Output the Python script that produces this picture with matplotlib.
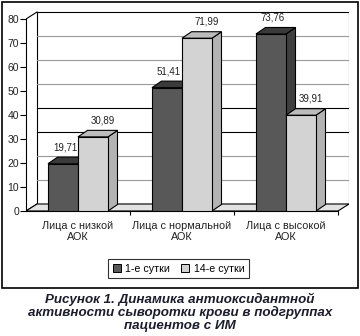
import matplotlib
matplotlib.use("Agg")
import matplotlib.pyplot as plt
from matplotlib.patches import Polygon, Rectangle, Patch

plt.rcParams['font.family'] = ['Liberation Sans', 'DejaVu Sans']

categories = ["Лица с низкой\nАОК", "Лица с нормальной\nАОК", "Лица с высокой\nАОК"]
series_names = ["1-е сутки", "14-е сутки"]
day1 = [19.71, 51.41, 73.76]
day14 = [30.89, 71.99, 39.91]
y_ticks = [0, 10, 20, 30, 40, 50, 60, 70, 80]
caption = ["Рисунок 1. Динамика антиоксидантной",
           "активности сыворотки крови в подгруппах",
           "пациентов с ИМ"]

W, H = 360, 336
fig = plt.figure(figsize=(W / 100, H / 100), dpi=100)

# plot area in pixels (front-left corner at zero, back wall top)
px_left, px_right, px_bottom, px_top = 26, 349, 211, 11
ax = fig.add_axes([px_left / W, 1 - px_bottom / H,
                   (px_right - px_left) / W, (px_bottom - px_top) / H])
cat_px = 104.0      # pixels per category
val_px = 2.4        # pixels per value unit
ax.set_xlim(-0.5, -0.5 + (px_right - px_left) / cat_px)
ax.set_ylim(0, (px_bottom - px_top) / val_px)

# depth offsets of walls and bars, expressed in data units
wdx, wdy = 11 / cat_px, 7 / val_px
bdx, bdy = 9.5 / cat_px, 6.5 / val_px
x_end = 2.5
lw = 0.8

# back wall and its gridlines
ax.add_patch(Rectangle((-0.5 + wdx, wdy), x_end - (-0.5), 80, facecolor='white',
                       edgecolor='black', lw=lw, zorder=1))
grid_dark = {30, 40}
for v in y_ticks[1:-1]:
    ax.plot([-0.5 + wdx, x_end + wdx], [v + wdy, v + wdy],
            color='black' if v in grid_dark else '#9a9a9a', lw=lw, zorder=1.5)

# left wall edges
ax.plot([-0.5, -0.5 + wdx], [80, 80 + wdy], color='black', lw=lw, zorder=2)
ax.plot([-0.5, -0.5 + wdx], [0, wdy], color='black', lw=lw, zorder=2)

# floor
ax.add_patch(Polygon([(-0.5, 0), (x_end, 0), (x_end + wdx, wdy), (-0.5 + wdx, wdy)],
                     closed=True, facecolor='#e2e2e2', edgecolor='black', lw=lw, zorder=2))

bar_w = 30 / cat_px
styles = [
    dict(front='#585858', top='#3a3a3a', side='#3e3e3e', label_dx=2 / cat_px),
    dict(front='#d3d3d3', top='#bcbcbc', side='#b3b3b3', label_dx=9.5 / cat_px),
]


def draw_bar(x0, h, st, z):
    x1 = x0 + bar_w
    ax.add_patch(Polygon([(x1, 0), (x1 + bdx, bdy), (x1 + bdx, h + bdy), (x1, h)],
                         closed=True, facecolor=st['side'], edgecolor='black', lw=lw, zorder=z))
    ax.add_patch(Polygon([(x0, h), (x1, h), (x1 + bdx, h + bdy), (x0 + bdx, h + bdy)],
                         closed=True, facecolor=st['top'], edgecolor='black', lw=lw, zorder=z))
    ax.add_patch(Rectangle((x0, 0), bar_w, h, facecolor=st['front'],
                           edgecolor='black', lw=lw, zorder=z + 0.1))
    ax.text(x0 + bar_w / 2 + st['label_dx'], h + bdy + 10 / val_px, f"{h:.2f}".replace('.', ','),
            ha='center', va='center', fontsize=7, color='#222222', zorder=10)


for i in range(len(categories)):
    draw_bar(i - bar_w, day1[i], styles[0], 3 + i)
    draw_bar(i, day14[i], styles[1], 3.5 + i)

# axes lines, ticks and labels
for s in ['top', 'right']:
    ax.spines[s].set_visible(False)
ax.spines['left'].set_bounds(0, 80)
ax.spines['bottom'].set_bounds(-0.5, x_end)
for s in ['left', 'bottom']:
    ax.spines[s].set_linewidth(lw)
    ax.spines[s].set_zorder(2.5)
ax.set_yticks(y_ticks)
ax.set_yticklabels([str(v) for v in y_ticks], fontsize=7.5, color='#222222')
ax.tick_params(axis='y', length=4, width=lw, pad=1)
ax.set_xticks(range(len(categories)))
ax.set_xticklabels(categories, fontsize=7.8, color='#222222', linespacing=1.15)
ax.tick_params(axis='x', which='major', length=0, pad=7)
ax.set_xticks([0.5, 1.5, 2.5], minor=True)
ax.tick_params(axis='x', which='minor', length=3, width=lw)
ax.patch.set_visible(False)

# legend
handles = [Patch(facecolor=styles[0]['front'], edgecolor='black', lw=0.7, label=series_names[0]),
           Patch(facecolor=styles[1]['front'], edgecolor='black', lw=0.7, label=series_names[1])]
leg = fig.legend(handles=handles, loc='center', bbox_to_anchor=(178.5 / W, 1 - 268.5 / H),
                 ncol=2, fontsize=7.7, frameon=True, fancybox=False, handlelength=0.8,
                 handleheight=0.8, handletextpad=0.4, columnspacing=1.0,
                 borderpad=0.45, borderaxespad=0)
leg.get_frame().set_edgecolor('black')
leg.get_frame().set_linewidth(lw)

# outer frame
fig.add_artist(Rectangle((1.5 / W, 1 - 287.5 / H), 356 / W, 286 / H, transform=fig.transFigure,
                         fill=False, edgecolor='black', lw=1.2))

# caption
for k, line in enumerate(caption):
    fig.text(0.5, 1 - (299.5 + 13.3 * k) / H, line, ha='center', va='center', fontsize=9.6,
             fontweight='bold', fontstyle='italic', color='#1c1c2c')

fig.savefig('out.png', dpi=100)
